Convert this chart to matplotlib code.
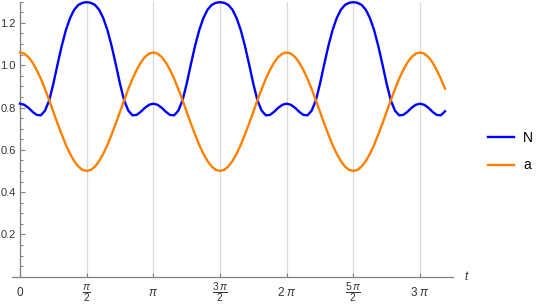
import numpy as np
import matplotlib
matplotlib.use("Agg")
import matplotlib.pyplot as plt
from matplotlib.ticker import MultipleLocator

plt.rcParams['font.family'] = ['Liberation Sans', 'DejaVu Sans']
plt.rcParams['mathtext.fontset'] = 'custom'
plt.rcParams['mathtext.rm'] = 'Liberation Sans'
plt.rcParams['mathtext.it'] = 'Liberation Sans:italic'

# sample grid: t = k*pi/32
t = np.arange(103) * np.pi / 32

N_vals = [
    0.818, 0.813, 0.799, 0.780, 0.765, 0.763, 0.785, 0.833, 0.912, 1.003, 1.090, 1.165, 1.222, 1.262, 1.285, 1.295,
    1.298, 1.295, 1.285, 1.262, 1.222, 1.165, 1.090, 1.003, 0.912, 0.833, 0.785, 0.763, 0.765, 0.780, 0.799, 0.813,
    0.818, 0.813, 0.799, 0.780, 0.765, 0.763, 0.785, 0.833, 0.912, 1.003, 1.090, 1.165, 1.222, 1.262, 1.285, 1.295,
    1.298, 1.295, 1.285, 1.262, 1.222, 1.165, 1.090, 1.003, 0.912, 0.833, 0.785, 0.763, 0.765, 0.780, 0.799, 0.813,
    0.818, 0.813, 0.799, 0.780, 0.765, 0.763, 0.785, 0.833, 0.912, 1.003, 1.090, 1.165, 1.222, 1.262, 1.285, 1.295,
    1.298, 1.295, 1.285, 1.262, 1.222, 1.165, 1.090, 1.003, 0.912, 0.833, 0.785, 0.763, 0.765, 0.780, 0.799, 0.813,
    0.818, 0.813, 0.799, 0.780, 0.765, 0.763, 0.782,
]

a_vals = [
    1.060, 1.055, 1.039, 1.013, 0.978, 0.936, 0.887, 0.835, 0.780, 0.725, 0.673, 0.624, 0.582, 0.547, 0.521, 0.505,
    0.500, 0.505, 0.521, 0.547, 0.582, 0.624, 0.673, 0.725, 0.780, 0.835, 0.887, 0.936, 0.978, 1.013, 1.039, 1.055,
    1.060, 1.055, 1.039, 1.013, 0.978, 0.936, 0.887, 0.835, 0.780, 0.725, 0.673, 0.624, 0.582, 0.547, 0.521, 0.505,
    0.500, 0.505, 0.521, 0.547, 0.582, 0.624, 0.673, 0.725, 0.780, 0.835, 0.887, 0.936, 0.978, 1.013, 1.039, 1.055,
    1.060, 1.055, 1.039, 1.013, 0.978, 0.936, 0.887, 0.835, 0.780, 0.725, 0.673, 0.624, 0.582, 0.547, 0.521, 0.505,
    0.500, 0.505, 0.521, 0.547, 0.582, 0.624, 0.673, 0.725, 0.780, 0.835, 0.887, 0.936, 0.978, 1.013, 1.039, 1.055,
    1.060, 1.055, 1.039, 1.013, 0.978, 0.936, 0.889,
]

x_tick_vals = [0, np.pi / 2, np.pi, 3 * np.pi / 2, 2 * np.pi, 5 * np.pi / 2, 3 * np.pi]
x_tick_labels = ['0', r'$\frac{\pi}{2}$', r'$\pi$', r'$\frac{3\,\pi}{2}$', r'$2\;\pi$',
                 r'$\frac{5\,\pi}{2}$', r'$3\;\pi$']
y_tick_vals = [0.2, 0.4, 0.6, 0.8, 1.0, 1.2]
y_tick_labels = ['0.2', '0.4', '0.6', '0.8', '1.0', '1.2']

series_names = ['N', 'a']
colors = ['#0000FF', '#FF8000']

W, H = 545, 307
fig = plt.figure(figsize=(W / 100, H / 100), dpi=100)
left_px, right_px = 11.7, 453
zero_px = 20.0
bottom_px = 276.7
ppu = 211.5
ytop = 1.30
top_px = bottom_px - ytop * ppu
ax = fig.add_axes([left_px / W, (H - bottom_px) / H, (right_px - left_px) / W, (bottom_px - top_px) / H])

ax.plot(t, N_vals, color=colors[0], lw=1.7, label=series_names[0], clip_on=False, zorder=3)
ax.plot(t, a_vals, color=colors[1], lw=1.7, label=series_names[1], clip_on=False, zorder=3)

px_per_pi = 133.33
ax.set_xlim(-(zero_px - left_px) / px_per_pi * np.pi, (right_px - zero_px) / px_per_pi * np.pi)
ax.set_ylim(0, ytop)

axis_col = '#808080'
for s in ['top', 'right']:
    ax.spines[s].set_visible(False)
ax.spines['left'].set_position(('data', 0))
ax.spines['bottom'].set_position(('data', 0))
for s in ['left', 'bottom']:
    ax.spines[s].set_color(axis_col)
    ax.spines[s].set_linewidth(0.9)

ax.set_xticks(x_tick_vals)
ax.set_xticklabels(x_tick_labels)
ax.set_yticks(y_tick_vals)
ax.set_yticklabels(y_tick_labels)
ax.yaxis.set_minor_locator(MultipleLocator(0.05))

ax.tick_params(axis='x', direction='in', length=3.0, width=0.8, color=axis_col,
               labelsize=8.5, labelcolor='#333333', pad=11.7)
ax.tick_params(axis='y', which='major', direction='in', length=3.6, width=0.8, color=axis_col,
               labelsize=8, labelcolor='#333333', pad=3)
ax.tick_params(axis='y', which='minor', direction='in', length=2.2, width=0.7, color=axis_col)
for lbl in ax.get_xticklabels():
    lbl.set_va('center')
    if 'frac' in lbl.get_text():
        lbl.set_fontsize(10.5)

ax.grid(axis='x', color='#dadada', lw=0.9, zorder=0)
ax.set_axisbelow(True)

ax.set_xlabel('t', fontsize=8.5, style='italic', color='#333333', ha='left', va='center')
ax.xaxis.set_label_coords((464 - left_px) / (right_px - left_px), 0)

leg = fig.legend(loc='center left', bbox_to_anchor=(488.3 / W, 1 - 151.9 / H),
                 frameon=False, fontsize=10, handlelength=1.85, handletextpad=0.65,
                 labelspacing=0.95, borderpad=0, borderaxespad=0)

fig.savefig('out.png', dpi=100)
